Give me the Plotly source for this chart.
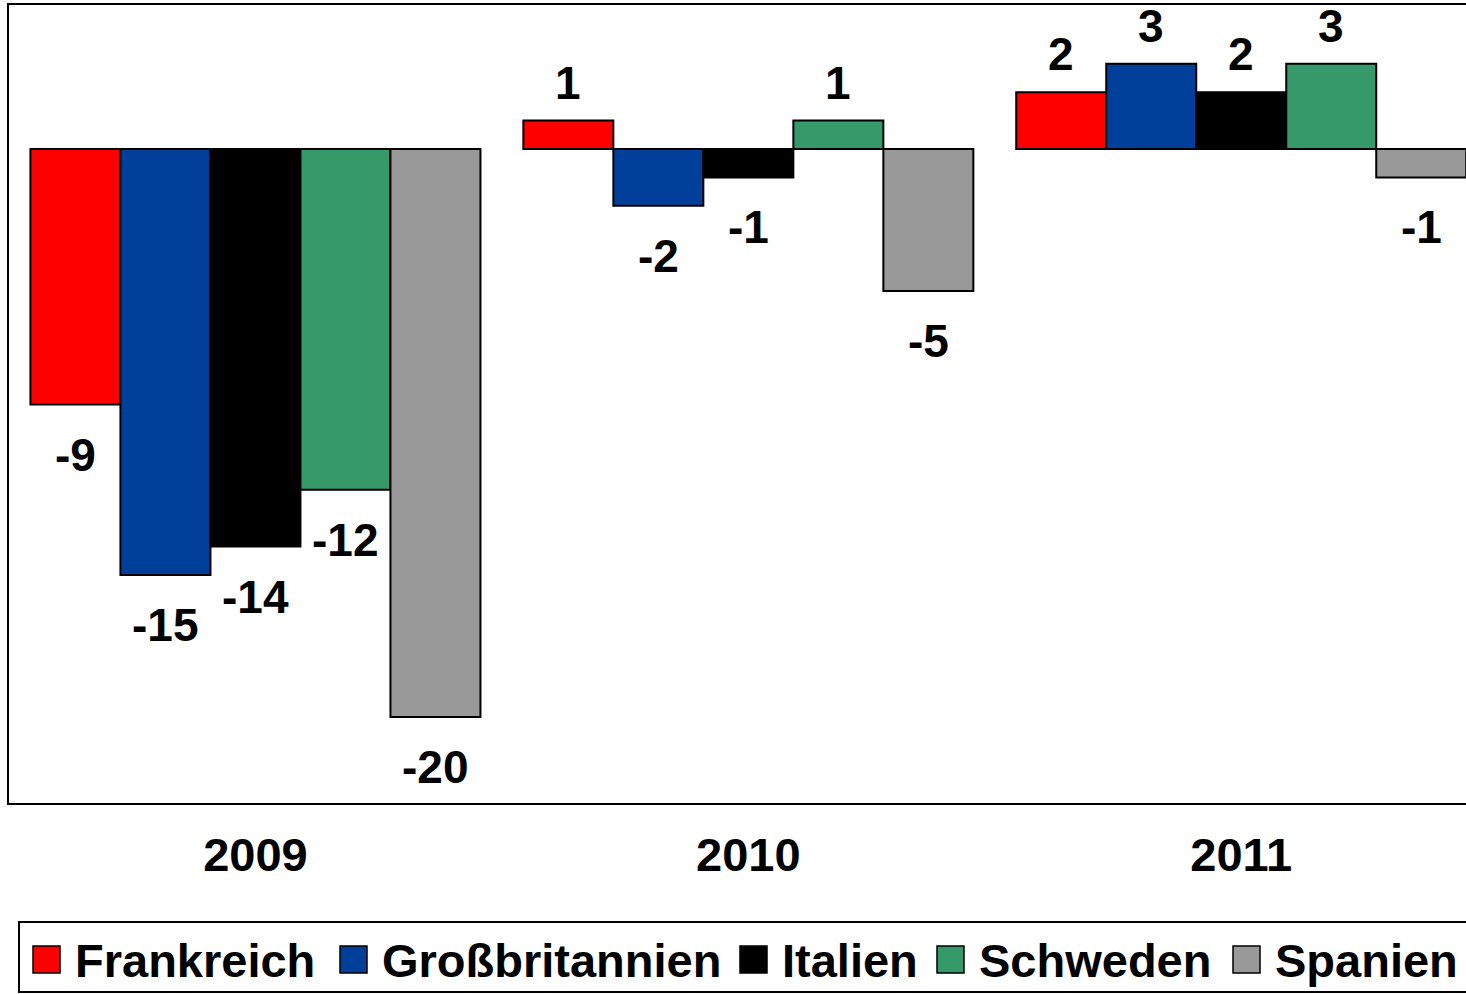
import plotly.graph_objects as go

# data
years = ["2009", "2010", "2011"]
countries = ["Frankreich", "Großbritannien", "Italien", "Schweden", "Spanien"]
frankreich = [-9, 1, 2]
grossbritannien = [-15, -2, 3]
italien = [-14, -1, 2]
schweden = [-12, 1, 3]
spanien = [-20, -5, -1]
series = [frankreich, grossbritannien, italien, schweden, spanien]

colors = ["#FF0000", "#003F9A", "#000000", "#36996A", "#999999"]

W, H = 1466, 994
L, T, B = 9, 5, 191
FONT = "Liberation Sans, Arial, Helvetica, sans-serif"
bargap = 0.087


def px_x(px):
    return (px - L) / (W - L)


def px_y(py):
    return (H - B - py) / (H - B - T)


fig = go.Figure()
for name, vals, col in zip(countries, series, colors):
    fig.add_trace(go.Bar(
        x=list(range(len(years))), y=vals, name=name,
        marker=dict(color=col, line=dict(color="black", width=2)),
        showlegend=False,
    ))

# value labels above / below bar ends
n = len(countries)
w = (1 - bargap) / n
annotations = []
for i, vals in enumerate(series):
    for j, v in enumerate(vals):
        annotations.append(dict(
            x=j + (i - (n - 1) / 2) * w, y=v, xref="x", yref="y",
            text=f"<b>{v}</b>", showarrow=False,
            yshift=38 if v > 0 else -50,
            font=dict(family=FONT, size=46, color="black"),
        ))

# hand-drawn legend (larger swatches than plotly's built-in)
shapes = [dict(type="rect", xref="paper", yref="paper",
               x0=px_x(19), x1=px_x(1490), y0=px_y(922), y1=px_y(992),
               line=dict(color="black", width=2), fillcolor="white")]
legend_x = [33, 340, 740, 937, 1233]
for name, col, lx in zip(countries, colors, legend_x):
    shapes.append(dict(type="rect", xref="paper", yref="paper",
                       x0=px_x(lx), x1=px_x(lx + 27),
                       y0=px_y(946), y1=px_y(973),
                       line=dict(color="black", width=1.5), fillcolor=col))
    annotations.append(dict(
        x=px_x(lx + 40), y=px_y(960), xref="paper", yref="paper",
        xanchor="left", yanchor="middle", showarrow=False,
        text=f"<b>{name}</b>",
        font=dict(family=FONT, size=47, color="black"),
    ))

fig.update_layout(
    width=W, height=H,
    margin=dict(l=L, r=0, t=T, b=B, pad=0),
    paper_bgcolor="white", plot_bgcolor="white",
    barmode="group", bargap=bargap, bargroupgap=0,
    showlegend=False,
    xaxis=dict(
        range=[-0.5, 2.456], tickmode="array",
        tickvals=list(range(len(years))), ticktext=[f"<b>{y}</b>" for y in years],
        tickfont=dict(family=FONT, size=47, color="black"),
        showline=True, mirror=True, linecolor="black", linewidth=2,
        showgrid=False, zeroline=False, ticks="", ticklabelstandoff=10,
    ),
    yaxis=dict(
        range=[-23.03, 5.07], showticklabels=False,
        showline=True, linecolor="black", linewidth=2,
        showgrid=False, zeroline=False, ticks="",
    ),
    annotations=annotations,
    shapes=shapes,
)

fig.write_html("out.html", config={"displayModeBar": False},
               post_script="document.body.style.margin='0px';document.body.style.overflow='hidden';")
